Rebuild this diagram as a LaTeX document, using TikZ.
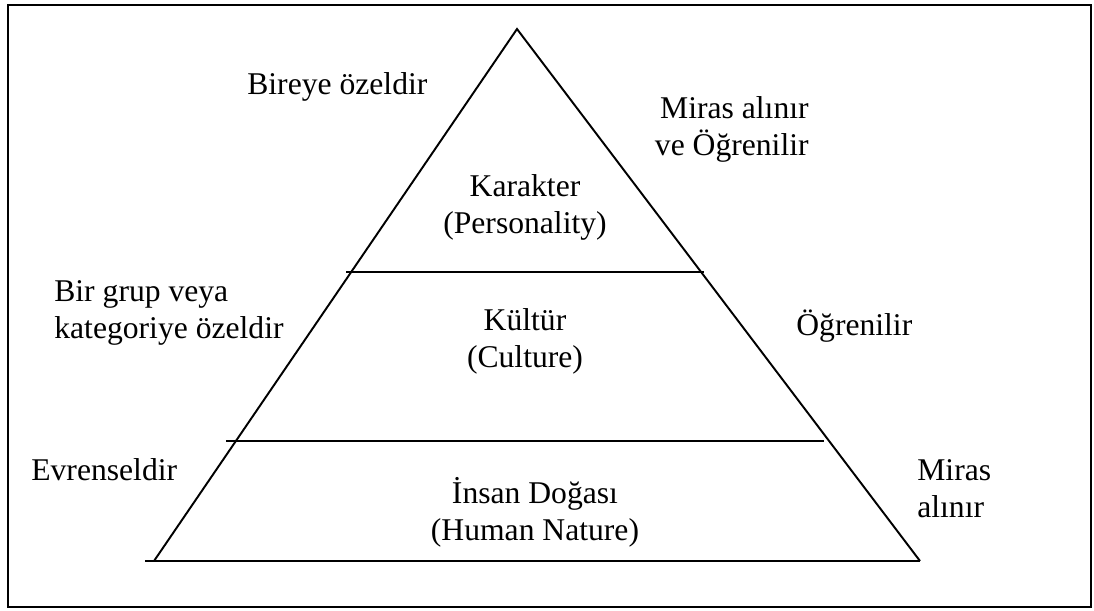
\documentclass[tikz,border=0pt]{standalone}
\usepackage{fontspec}
\setmainfont{Liberation Serif}

\begin{document}
\begin{tikzpicture}[
  font=\fontsize{18}{20.5}\selectfont,
  layer/.style={align=center, inner sep=0pt, anchor=base},
  lside/.style={align=left, inner sep=0pt, anchor=base west},
  rside/.style={align=right, inner sep=0pt, anchor=base east},
  edge/.style={line width=1.1pt, draw=black}
]
\useasboundingbox (0,0) rectangle (21.88,12.2);

% Frame
\draw[line width=1.4pt] (0.16,0.06) rectangle (21.82,12.1);

% Pyramid
\coordinate (apex) at (10.34,11.62);
\coordinate (bl) at (3.08,0.98);
\coordinate (br) at (18.40,0.98);
\coordinate (b0) at (2.90,0.98);
\draw[edge] (bl) -- (apex) -- (br);
\draw[edge] (b0) -- (br);

% Layer borders
\coordinate (u1) at (6.92,6.76);
\coordinate (u2) at (14.08,6.76);
\coordinate (d1) at (4.52,3.38);
\coordinate (d2) at (16.48,3.38);
\draw[edge] (u1) -- (u2);
\draw[edge] (d1) -- (d2);

% Layers (base = last line)
\node[layer] (karakter) at (10.50,7.54) {Karakter\\(Personality)};
\node[layer] (kultur) at (10.50,4.86) {Kültür\\(Culture)};
\node[layer] (insan) at (10.70,1.40) {İnsan Doğası\\(Human Nature)};

% Left side
\node[lside] (birey) at (4.94,10.30) {Bireye özeldir};
\node[lside] (grup) at (1.08,5.44) {Bir grup veya\\kategoriye özeldir};
\node[lside] (evren) at (0.62,2.60) {Evrenseldir};

% Right side
\node[rside] (miras1) at (16.18,9.10) {Miras alınır\\ve Öğrenilir};
\node[lside] (ogren) at (15.92,5.50) {Öğrenilir};
\node[lside] (miras2) at (18.34,1.86) {Miras\\alınır};

\end{tikzpicture}
\end{document}
